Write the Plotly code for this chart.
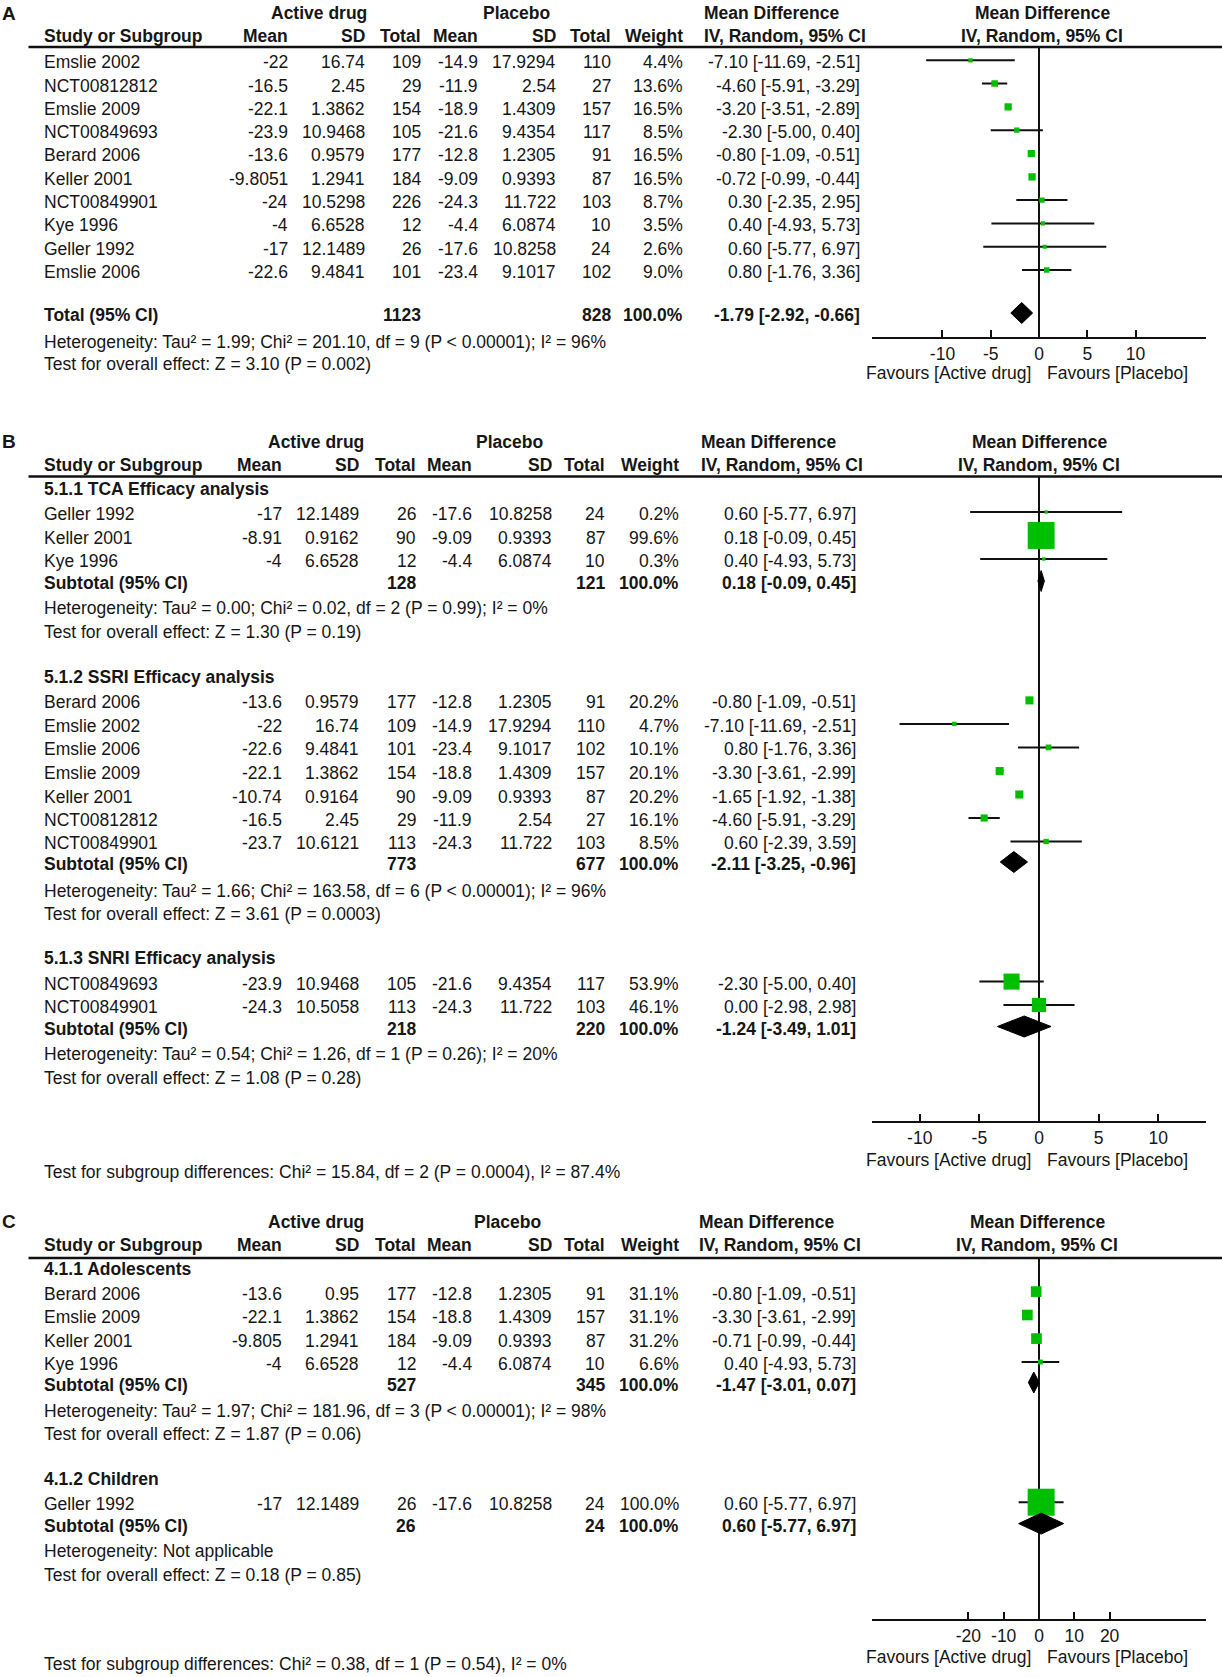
import plotly.graph_objects as go

W, H = 1222, 1677

# ======================= DATA =======================
# ---- Panel A (overall) ----
a_study = ["Emslie 2002", "NCT00812812", "Emslie 2009", "NCT00849693", "Berard 2006",
           "Keller 2001", "NCT00849901", "Kye 1996", "Geller 1992", "Emslie 2006"]
a_act_mean = [-22, -16.5, -22.1, -23.9, -13.6, -9.8051, -24, -4, -17, -22.6]
a_act_sd = [16.74, 2.45, 1.3862, 10.9468, 0.9579, 1.2941, 10.5298, 6.6528, 12.1489, 9.4841]
a_act_n = [109, 29, 154, 105, 177, 184, 226, 12, 26, 101]
a_pla_mean = [-14.9, -11.9, -18.9, -21.6, -12.8, -9.09, -24.3, -4.4, -17.6, -23.4]
a_pla_sd = [17.9294, 2.54, 1.4309, 9.4354, 1.2305, 0.9393, 11.722, 6.0874, 10.8258, 9.1017]
a_pla_n = [110, 27, 157, 117, 91, 87, 103, 10, 24, 102]
a_weight = [4.4, 13.6, 16.5, 8.5, 16.5, 16.5, 8.7, 3.5, 2.6, 9.0]
a_md = [-7.10, -4.60, -3.20, -2.30, -0.80, -0.72, 0.30, 0.40, 0.60, 0.80]
a_lo = [-11.69, -5.91, -3.51, -5.00, -1.09, -0.99, -2.35, -4.93, -5.77, -1.76]
a_hi = [-2.51, -3.29, -2.89, 0.40, -0.51, -0.44, 2.95, 5.73, 6.97, 3.36]
a_tot_label = ["Total (95% CI)"]
a_tot_act_n = [1123]
a_tot_pla_n = [828]
a_tot_md = [-1.79]
a_tot_lo = [-2.92]
a_tot_hi = [-0.66]
a_het = ["Heterogeneity: Tau² = 1.99; Chi² = 201.10, df = 9 (P < 0.00001); I² = 96%"]
a_test = ["Test for overall effect: Z = 3.10 (P = 0.002)"]
a_ticks = [-10, -5, 0, 5, 10]

# ---- Panel B (by drug class) ----
b_group = [0, 0, 0, 1, 1, 1, 1, 1, 1, 1, 2, 2]
b_study = ["Geller 1992", "Keller 2001", "Kye 1996",
           "Berard 2006", "Emslie 2002", "Emslie 2006", "Emslie 2009", "Keller 2001",
           "NCT00812812", "NCT00849901",
           "NCT00849693", "NCT00849901"]
b_act_mean = [-17, -8.91, -4, -13.6, -22, -22.6, -22.1, -10.74, -16.5, -23.7, -23.9, -24.3]
b_act_sd = [12.1489, 0.9162, 6.6528, 0.9579, 16.74, 9.4841, 1.3862, 0.9164, 2.45, 10.6121,
            10.9468, 10.5058]
b_act_n = [26, 90, 12, 177, 109, 101, 154, 90, 29, 113, 105, 113]
b_pla_mean = [-17.6, -9.09, -4.4, -12.8, -14.9, -23.4, -18.8, -9.09, -11.9, -24.3, -21.6, -24.3]
b_pla_sd = [10.8258, 0.9393, 6.0874, 1.2305, 17.9294, 9.1017, 1.4309, 0.9393, 2.54, 11.722,
            9.4354, 11.722]
b_pla_n = [24, 87, 10, 91, 110, 102, 157, 87, 27, 103, 117, 103]
b_weight = [0.2, 99.6, 0.3, 20.2, 4.7, 10.1, 20.1, 20.2, 16.1, 8.5, 53.9, 46.1]
b_md = [0.60, 0.18, 0.40, -0.80, -7.10, 0.80, -3.30, -1.65, -4.60, 0.60, -2.30, 0.00]
b_lo = [-5.77, -0.09, -4.93, -1.09, -11.69, -1.76, -3.61, -1.92, -5.91, -2.39, -5.00, -2.98]
b_hi = [6.97, 0.45, 5.73, -0.51, -2.51, 3.36, -2.99, -1.38, -3.29, 3.59, 0.40, 2.98]
b_sub_name = ["5.1.1 TCA Efficacy analysis", "5.1.2 SSRI Efficacy analysis",
              "5.1.3 SNRI Efficacy analysis"]
b_sub_act_n = [128, 773, 218]
b_sub_pla_n = [121, 677, 220]
b_sub_md = [0.18, -2.11, -1.24]
b_sub_lo = [-0.09, -3.25, -3.49]
b_sub_hi = [0.45, -0.96, 1.01]
b_sub_het = ["Heterogeneity: Tau² = 0.00; Chi² = 0.02, df = 2 (P = 0.99); I² = 0%",
             "Heterogeneity: Tau² = 1.66; Chi² = 163.58, df = 6 (P < 0.00001); I² = 96%",
             "Heterogeneity: Tau² = 0.54; Chi² = 1.26, df = 1 (P = 0.26); I² = 20%"]
b_sub_test = ["Test for overall effect: Z = 1.30 (P = 0.19)",
              "Test for overall effect: Z = 3.61 (P = 0.0003)",
              "Test for overall effect: Z = 1.08 (P = 0.28)"]
b_diff = "Test for subgroup differences: Chi² = 15.84, df = 2 (P = 0.0004), I² = 87.4%"
b_ticks = [-10, -5, 0, 5, 10]

# ---- Panel C (by age) ----
c_group = [0, 0, 0, 0, 1]
c_study = ["Berard 2006", "Emslie 2009", "Keller 2001", "Kye 1996", "Geller 1992"]
c_act_mean = [-13.6, -22.1, -9.805, -4, -17]
c_act_sd = [0.95, 1.3862, 1.2941, 6.6528, 12.1489]
c_act_n = [177, 154, 184, 12, 26]
c_pla_mean = [-12.8, -18.8, -9.09, -4.4, -17.6]
c_pla_sd = [1.2305, 1.4309, 0.9393, 6.0874, 10.8258]
c_pla_n = [91, 157, 87, 10, 24]
c_weight = [31.1, 31.1, 31.2, 6.6, 100.0]
c_md = [-0.80, -3.30, -0.71, 0.40, 0.60]
c_lo = [-1.09, -3.61, -0.99, -4.93, -5.77]
c_hi = [-0.51, -2.99, -0.44, 5.73, 6.97]
c_sub_name = ["4.1.1 Adolescents", "4.1.2 Children"]
c_sub_act_n = [527, 26]
c_sub_pla_n = [345, 24]
c_sub_md = [-1.47, 0.60]
c_sub_lo = [-3.01, -5.77]
c_sub_hi = [0.07, 6.97]
c_sub_het = ["Heterogeneity: Tau² = 1.97; Chi² = 181.96, df = 3 (P < 0.00001); I² = 98%",
             "Heterogeneity: Not applicable"]
c_sub_test = ["Test for overall effect: Z = 1.87 (P = 0.06)",
              "Test for overall effect: Z = 0.18 (P = 0.85)"]
c_diff = "Test for subgroup differences: Chi² = 0.38, df = 1 (P = 0.54), I² = 0%"
c_ticks = [-20, -10, 0, 10, 20]

# ======================= STYLE / LAYOUT =======================
FONT = "Liberation Sans, Arial, Helvetica, sans-serif"
FS = 17.5
TXT = "#161616"
LINE = "#111111"
GREEN = "#00bf00"
DY = -2.0      # marker offset from text row centre (px)
DH = 10.5      # diamond half-height (px)
PLOT_X0, PLOT_X1 = 872, 1206

COLS_A = dict(label=44, am=288, asd=365, an=420.5, pm=478, psd=555.5, pn=611, w=683,
              ci=860, md_left=704, active_c=319, placebo_c=516.5, plot_c=1042)
COLS_B = dict(label=44, am=281.5, asd=359, an=415.5, pm=472, psd=551.5, pn=604.5, w=679,
              ci=856, md_left=701, active_c=316, placebo_c=509, plot_c=1039)
COLS_C = dict(COLS_B, md_left=699, active_c=316, placebo_c=508, plot_c=1037)

annotations = []
shapes = []
fig = go.Figure()


def px(x):
    return x / W


def py(y):
    return 1 - y / H


def txt(x, y, s, anchor="left", bold=False, size=FS):
    if bold:
        s = "<b>" + s + "</b>"
    annotations.append(dict(x=px(x), y=py(y), xref="paper", yref="paper", text=s,
                            showarrow=False, xanchor=anchor, yanchor="middle",
                            borderpad=0, borderwidth=0,
                            font=dict(family=FONT, size=size, color=TXT)))


def hline(x0, x1, y, w=2.5):
    shapes.append(dict(type="line", xref="paper", yref="paper", x0=px(x0), x1=px(x1),
                       y0=py(y), y1=py(y), line=dict(color=LINE, width=w)))


def header(letter, y1, y2, yline, c):
    txt(2, y1, letter, bold=True, size=19)
    txt(c["active_c"], y1, "Active drug", "center", True)
    txt(c["placebo_c"], y1, "Placebo", "center", True)
    txt(c["md_left"], y1, "Mean Difference", "left", True)
    txt(c["plot_c"], y1, "Mean Difference", "center", True)
    txt(c["label"], y2, "Study or Subgroup", "left", True)
    txt(c["am"], y2, "Mean", "right", True)
    txt(c["asd"], y2, "SD", "right", True)
    txt(c["an"], y2, "Total", "right", True)
    txt(c["pm"], y2, "Mean", "right", True)
    txt(c["psd"], y2, "SD", "right", True)
    txt(c["pn"], y2, "Total", "right", True)
    txt(c["w"], y2, "Weight", "right", True)
    txt(c["md_left"], y2, "IV, Random, 95% CI", "left", True)
    txt(c["plot_c"], y2, "IV, Random, 95% CI", "center", True)
    hline(28.5, W, yline)


def ci_text(m, l, h):
    return f"{m:.2f} [{l:.2f}, {h:.2f}]"


def study_rows(c, ys, study, am, asd, an, pm, psd, pn, wt, md, lo, hi):
    for i, y in enumerate(ys):
        txt(c["label"], y, study[i])
        txt(c["am"], y, str(am[i]), "right")
        txt(c["asd"], y, str(asd[i]), "right")
        txt(c["an"], y, str(an[i]), "right")
        txt(c["pm"], y, str(pm[i]), "right")
        txt(c["psd"], y, str(psd[i]), "right")
        txt(c["pn"], y, str(pn[i]), "right")
        txt(c["w"], y, f"{wt[i]:.1f}%", "right")
        txt(c["ci"], y, ci_text(md[i], lo[i], hi[i]), "right")


def total_row(c, y, label, an, pn, md, lo, hi):
    txt(c["label"], y, label, bold=True)
    txt(c["an"], y, str(an), "right", True)
    txt(c["pn"], y, str(pn), "right", True)
    txt(c["w"], y, "100.0%", "right", True)
    txt(c["ci"], y, ci_text(md, lo, hi), "right", True)


def forest(k, ys, md, lo, hi, wt, sys_, smd, slo, shi):
    xa = "x" if k == 1 else f"x{k}"
    ya = "y" if k == 1 else f"y{k}"
    lx, ly = [], []
    for l, h, y in zip(lo, hi, ys):
        lx += [l, h, None]
        ly += [y + DY, y + DY, None]
    fig.add_trace(go.Scatter(x=lx, y=ly, mode="lines", xaxis=xa, yaxis=ya,
                             line=dict(color=LINE, width=2), hoverinfo="skip"))
    fig.add_trace(go.Scatter(x=md, y=[y + DY for y in ys], mode="markers", xaxis=xa, yaxis=ya,
                             marker=dict(symbol="square", color=GREEN, opacity=1,
                                         size=[3.3 + 0.237 * v for v in wt],
                                         line=dict(width=0)),
                             hoverinfo="skip"))
    for m, l, h, y in zip(smd, slo, shi, sys_):
        yc = y + DY
        fig.add_trace(go.Scatter(x=[l, m, h, m, l], y=[yc, yc - DH, yc, yc + DH, yc],
                                 mode="lines", fill="toself", fillcolor="#000000",
                                 line=dict(color="#000000", width=1),
                                 xaxis=xa, yaxis=ya, hoverinfo="skip"))


axes_layout = {}


def axes(k, ytop, yax, rng, ticks):
    xname = "xaxis" if k == 1 else f"xaxis{k}"
    yname = "yaxis" if k == 1 else f"yaxis{k}"
    axes_layout[xname] = dict(domain=[px(PLOT_X0), px(PLOT_X1)], range=rng,
                              anchor="y" if k == 1 else f"y{k}",
                              tickmode="array", tickvals=ticks,
                              ticktext=[str(t) for t in ticks],
                              showline=True, linecolor=LINE, linewidth=2,
                              ticks="inside", ticklen=7, tickwidth=2, tickcolor=LINE,
                              showgrid=False, zeroline=True, zerolinecolor=LINE,
                              zerolinewidth=2, fixedrange=True,
                              tickfont=dict(family=FONT, size=FS, color=TXT))
    axes_layout[yname] = dict(domain=[py(yax), py(ytop)], range=[yax, ytop],
                              anchor="x" if k == 1 else f"x{k}",
                              visible=False, showgrid=False, zeroline=False,
                              fixedrange=True)


def favours(yf):
    txt(1030.5, yf, "Favours [Active drug]", "right")
    txt(1047, yf, "Favours [Placebo]", "left")


# ---------------- Panel A ----------------
A_ROWS = [62.3 + 23.3 * i for i in range(len(a_study))]
A_TOT, A_HET, A_TEST = 315, 341.7, 364.3
A_AXIS, A_FAV = 337.3, 373.5
header("A", 13.3, 36, 47, COLS_A)
study_rows(COLS_A, A_ROWS, a_study, a_act_mean, a_act_sd, a_act_n, a_pla_mean, a_pla_sd,
           a_pla_n, a_weight, a_md, a_lo, a_hi)
total_row(COLS_A, A_TOT, a_tot_label[0], a_tot_act_n[0], a_tot_pla_n[0],
          a_tot_md[0], a_tot_lo[0], a_tot_hi[0])
txt(44, A_HET, a_het[0])
txt(44, A_TEST, a_test[0])
forest(1, A_ROWS, a_md, a_lo, a_hi, a_weight, [A_TOT], a_tot_md, a_tot_lo, a_tot_hi)
axes(1, 47, A_AXIS, [-17.3, 17.3], a_ticks)
favours(A_FAV)

# ---------------- Panel B ----------------
B_ROWS = [514, 537.5, 561, 702.4, 725.9, 749.4, 773, 796.5, 820, 843.5, 983.6, 1007]
B_SUBLBL = [488.6, 676.5, 958]
B_SUBTOT = [583, 864, 1028.5]
B_HET = [608, 890.5, 1054]
B_TEST = [631.5, 914, 1077.5]
B_AXIS, B_FAV, B_DIFF = 1120.7, 1159.5, 1172
header("B", 441.5, 465, 476.5, COLS_B)
study_rows(COLS_B, B_ROWS, b_study, b_act_mean, b_act_sd, b_act_n, b_pla_mean, b_pla_sd,
           b_pla_n, b_weight, b_md, b_lo, b_hi)
for g in range(len(b_sub_name)):
    txt(44, B_SUBLBL[g], b_sub_name[g], bold=True)
    total_row(COLS_B, B_SUBTOT[g], "Subtotal (95% CI)", b_sub_act_n[g], b_sub_pla_n[g],
              b_sub_md[g], b_sub_lo[g], b_sub_hi[g])
    txt(44, B_HET[g], b_sub_het[g])
    txt(44, B_TEST[g], b_sub_test[g])
txt(44, B_DIFF, b_diff)
forest(2, B_ROWS, b_md, b_lo, b_hi, b_weight, B_SUBTOT, b_sub_md, b_sub_lo, b_sub_hi)
axes(2, 476.5, B_AXIS, [-14.0, 14.0], b_ticks)
favours(B_FAV)

# ---------------- Panel C ----------------
C_ROWS = [1293.6, 1317, 1340.6, 1364, 1504.2]
C_SUBLBL = [1268.5, 1478.6]
C_SUBTOT = [1384.5, 1525.6]
C_HET = [1411, 1551.3]
C_TEST = [1433.7, 1574.8]
C_AXIS, C_FAV, C_DIFF = 1618.7, 1657, 1664
header("C", 1221.5, 1245, 1258, COLS_C)
study_rows(COLS_C, C_ROWS, c_study, c_act_mean, c_act_sd, c_act_n, c_pla_mean, c_pla_sd,
           c_pla_n, c_weight, c_md, c_lo, c_hi)
for g in range(len(c_sub_name)):
    txt(44, C_SUBLBL[g], c_sub_name[g], bold=True)
    total_row(COLS_C, C_SUBTOT[g], "Subtotal (95% CI)", c_sub_act_n[g], c_sub_pla_n[g],
              c_sub_md[g], c_sub_lo[g], c_sub_hi[g])
    txt(44, C_HET[g], c_sub_het[g])
    txt(44, C_TEST[g], c_sub_test[g])
txt(44, C_DIFF, c_diff)
forest(3, C_ROWS, c_md, c_lo, c_hi, c_weight, C_SUBTOT, c_sub_md, c_sub_lo, c_sub_hi)
axes(3, 1258, C_AXIS, [-47.3, 47.3], c_ticks)
favours(C_FAV)

fig.update_layout(width=W, height=H, margin=dict(l=0, r=0, t=0, b=0, pad=0),
                  paper_bgcolor="white", plot_bgcolor="rgba(0,0,0,0)",
                  showlegend=False, annotations=annotations, shapes=shapes,
                  font=dict(family=FONT, size=FS, color=TXT), **axes_layout)

fig.write_html("out.html", config={"displayModeBar": False, "staticPlot": True},
               post_script="document.body.style.margin='0';")
